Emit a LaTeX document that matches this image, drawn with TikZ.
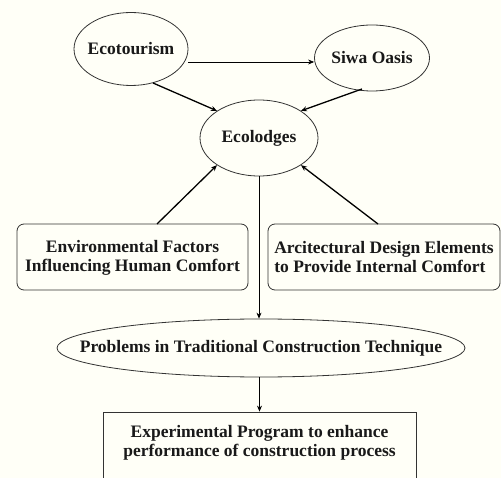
\documentclass[tikz,border=0pt]{standalone}
\usepackage{fontspec}
\setmainfont{Liberation Serif}
\usetikzlibrary{shapes.geometric,arrows.meta}
\begin{document}
\begin{tikzpicture}[x=1pt,y=-1pt,
  every node/.style={font=\bfseries\fontsize{17.5}{19}\selectfont, text=black!90},
  oval/.style={draw=black!80, ellipse, inner sep=0pt, line width=0.8pt},
  rbox/.style={draw=black!80, rounded corners=7pt, line width=0.8pt, inner sep=0pt},
  sbox/.style={draw=black!80, line width=0.8pt, inner sep=0pt},
  conn/.style={-{Stealth[length=6pt,width=5pt]}, line width=0.7pt},
  thick conn/.style={-{Stealth[length=6pt,width=5pt]}, line width=1.3pt}]
\fill[white!97!yellow] (0,0) rectangle (501,478);
\useasboundingbox (0,0) rectangle (501,478);
\clip (0,0) rectangle (501,478);
\node[oval, minimum width=114pt, minimum height=73pt] (eco) at (131,49) {};
\node (ecotext) at (eco.center) {Ecotourism};
\node[oval, minimum width=115pt, minimum height=66pt] (siwa) at (372,58) {};
\node (siwatext) at (siwa.center) {Siwa Oasis};
\node[oval, minimum width=118pt, minimum height=76pt] (lodge) at (259,138) {};
\node (lodgetext) at (lodge.center) {Ecolodges};
\node[rbox, minimum width=231pt, minimum height=66pt] (env) at (132.5,257) {};
\node[align=center] (envtext) at (132.5,258)
  {Environmental Factors\\Influencing Human Comfort};
\node[rbox, minimum width=232pt, minimum height=66pt] (arc) at (384,257) {};
\node[align=left] (arctext) at (384,257)
  {Arcitectural Design Elements\\to Provide Internal Comfort};
\node[oval, minimum width=408pt, minimum height=58pt] (prob) at (261,348) {};
\node (probtext) at (prob.center) {Problems in Traditional Construction Technique};
\node[sbox, minimum width=313pt, minimum height=100pt] (exp) at (259.5,462) {};
\node[align=center] (exptext) at (259.5,443)
  {Experimental Program to enhance\\performance of construction process};
\draw[conn] (eco.east |- 0,62) -- (siwa.west |- 0,62);
\draw[thick conn] (153,83) -- (lodge.north west);
\draw[thick conn] (362,89) -- (lodge.north east);
\draw[thick conn] (157,224) -- (lodge.south west);
\draw[thick conn] (378,224) -- (lodge.south east);
\draw[conn] (lodge.south) -- (lodge.south |- prob.north);
\draw[conn] (prob.south -| exp.north) -- (exp.north);
\end{tikzpicture}
\end{document}
